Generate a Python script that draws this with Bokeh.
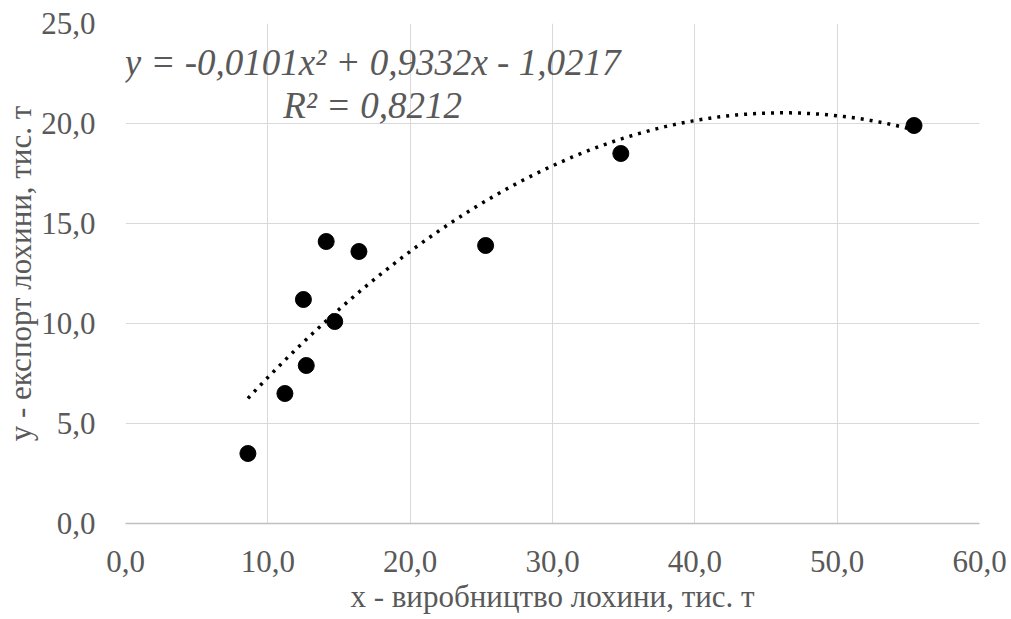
import numpy as np
from bokeh.plotting import figure
from bokeh.models import Range1d, FixedTicker, Label
from bokeh.embed import file_html
from bokeh.resources import INLINE

# Data
production = [8.6, 11.2, 12.7, 12.5, 14.7, 14.1, 16.4, 25.3, 34.8, 55.4]
export = [3.5, 6.5, 7.9, 11.2, 10.1, 14.1, 13.6, 13.9, 18.5, 19.9]
trend_coef = [-0.0101, 0.9332, -1.0217]  # quadratic trend, as displayed
x_ticks = [0, 10, 20, 30, 40, 50, 60]
y_ticks = [0, 5, 10, 15, 20, 25]
x_tick_labels = ["0,0", "10,0", "20,0", "30,0", "40,0", "50,0", "60,0"]
y_tick_labels = ["0,0", "5,0", "10,0", "15,0", "20,0", "25,0"]
equation_text = "y = -0,0101x² + 0,9332x - 1,0217"
r2_text = "R² = 0,8212"
x_title = "x - виробництво лохини, тис. т"
y_title = "у - експорт лохини, тис. т"

FONT = "Liberation Serif"
GREY = "#595959"

p = figure(width=1011, height=619, output_backend="svg", toolbar_location=None,
           x_range=Range1d(0, 60), y_range=Range1d(0, 25),
           min_border_left=124, min_border_right=32, min_border_top=23, min_border_bottom=96)
p.outline_line_color = None
p.background_fill_color = "white"
p.border_fill_color = "white"

# grid
p.xaxis.ticker = FixedTicker(ticks=x_ticks)
p.yaxis.ticker = FixedTicker(ticks=y_ticks)
p.xaxis.major_label_overrides = {t: l for t, l in zip(x_ticks, x_tick_labels)}
p.yaxis.major_label_overrides = {t: l for t, l in zip(y_ticks, y_tick_labels)}
for g in (p.xgrid, p.ygrid):
    g.grid_line_color = "#d9d9d9"
    g.grid_line_width = 1

for ax in (p.xaxis, p.yaxis):
    ax.major_tick_out = 0
    ax.major_tick_in = 0
    ax.minor_tick_out = 0
    ax.minor_tick_in = 0
    ax.major_label_text_font = FONT
    ax.major_label_text_font_size = "31px"
    ax.major_label_text_color = GREY
    ax.axis_label_text_font = FONT
    ax.axis_label_text_font_size = "31px"
    ax.axis_label_text_color = GREY
    ax.axis_label_text_font_style = "normal"

p.xaxis.axis_line_color = "#bfbfbf"
p.xaxis.axis_line_width = 1.5
p.yaxis.axis_line_color = None
p.xaxis.major_label_standoff = 27
p.yaxis.major_label_standoff = 30
p.xaxis.axis_label = x_title
p.yaxis.axis_label = y_title
p.xaxis.axis_label_standoff = 4
p.yaxis.axis_label_standoff = 0

# trend line
xs = np.linspace(min(production), max(production), 200)
ys = np.polyval(trend_coef, xs)
p.line(xs, ys, line_color="black", line_width=3.5, line_dash="3 6")

# points
p.scatter(production, export, size=16, fill_color="black", line_color="black")

# equation labels
p.add_layout(Label(x=17.36, y=23.05, text=equation_text, text_align="center",
                   text_baseline="middle", text_font=FONT, text_font_style="italic",
                   text_font_size="37px", text_color=GREY))
p.add_layout(Label(x=17.36, y=20.9, text=r2_text, text_align="center",
                   text_baseline="middle", text_font=FONT, text_font_style="italic",
                   text_font_size="37px", text_color=GREY))

open("out.html", "w").write(file_html(p, INLINE))
